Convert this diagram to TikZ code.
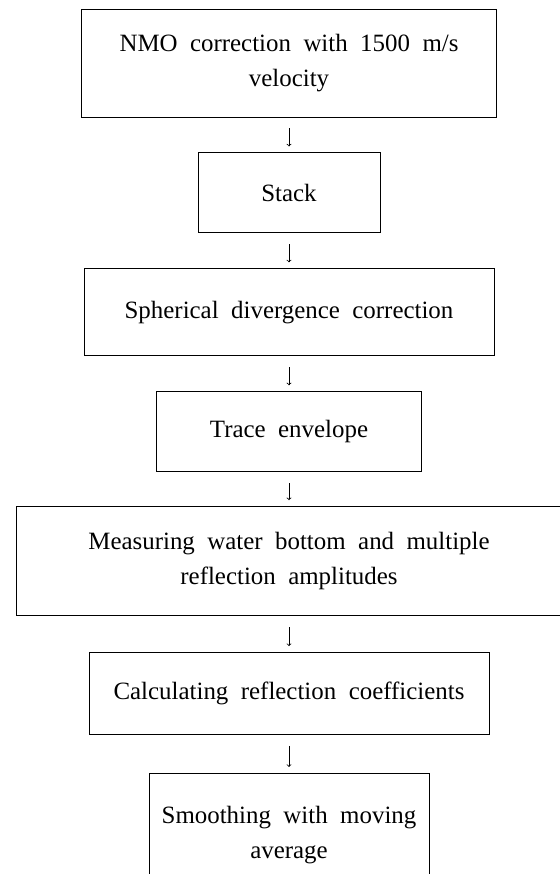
\documentclass[tikz,border=0pt]{standalone}
\usepackage{fontspec}
\setmainfont{Liberation Serif}[WordSpace=2]
\usetikzlibrary{positioning,arrows}

\begin{document}
\begin{tikzpicture}[
    x=1bp, y=1bp,
    stepbox/.style={rectangle, draw, line width=0.9bp, minimum height=80bp, align=center, font=\fontsize{25}{35}\selectfont},
    line/.style={draw, ->, >=to, line width=0.8bp, shorten <=11bp, shorten >=6bp}
]
\clip (0,0) rectangle (560,-874);
% Place nodes
\node [stepbox, minimum width=415bp, minimum height=108bp] (nmo) at (289,-63) {NMO correction with 1500 m/s\\velocity};
\node [stepbox, minimum width=182bp, below=35bp of nmo] (stack) {Stack};
\node [stepbox, minimum width=410bp, minimum height=87bp, below=35bp of stack] (spherical) {Spherical divergence correction};
\node [stepbox, minimum width=265bp, below=35bp of spherical] (envelope) {Trace envelope};
\node [stepbox, minimum width=545bp, minimum height=109bp, below=34bp of envelope] (measure) {Measuring water bottom and multiple\\reflection amplitudes};
\node [stepbox, minimum width=400bp, minimum height=82bp, below=36bp of measure] (coeff) {Calculating reflection coefficients};
\node [stepbox, minimum width=280bp, minimum height=124bp, below=38bp of coeff] (smooth) {Smoothing with moving\\average};

% Draw edges
\draw [line] (nmo) -- (stack);
\draw [line] (stack) -- (spherical);
\draw [line] (spherical) -- (envelope);
\draw [line] (envelope) -- (measure);
\draw [line] (measure) -- (coeff);
\draw [line] (coeff) -- (smooth);
\end{tikzpicture}
\end{document}
